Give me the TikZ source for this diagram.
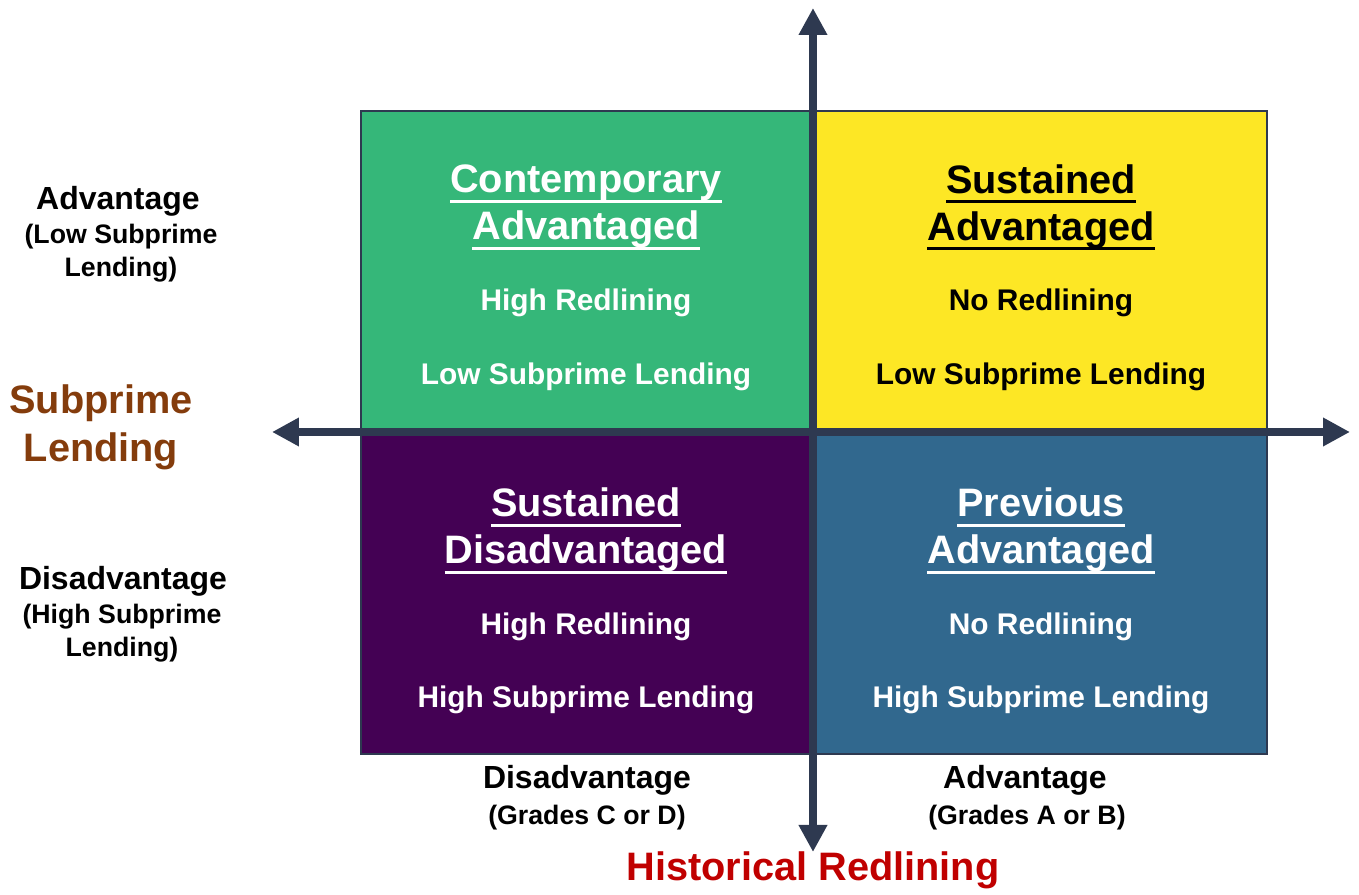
\documentclass[tikz,border=0pt]{standalone}
\usepackage{fontspec}
\setmainfont{Liberation Sans}
\usetikzlibrary{arrows.meta}

% underline drawn as a rule below the baseline
\newcommand\titleline[1]{\setbox0\hbox{#1}\rlap{\vrule height -2.0pt depth 2.85pt width \wd0}\box0}

\definecolor{quadgreen}{HTML}{35B779}
\definecolor{quadyellow}{HTML}{FDE725}
\definecolor{quadpurple}{HTML}{440154}
\definecolor{quadblue}{HTML}{31688E}
\definecolor{axiscol}{HTML}{2E3950}
\definecolor{lendbrown}{HTML}{843C0C}
\definecolor{redlinered}{HTML}{C00000}

\tikzset{
  axis/.style={draw=axiscol, line width=2.4pt, -{Triangle[width=0.27cm,length=0.27cm]}},
  quadtitle/.style={font=\bfseries\fontsize{11.3}{13.4}\selectfont, align=center, inner sep=0pt},
  quadtext/.style={font=\bfseries\fontsize{8.5}{10}\selectfont, inner sep=0pt},
  sidehead/.style={font=\bfseries\fontsize{9.1}{11}\selectfont, inner sep=0pt},
  sidesub/.style={font=\bfseries\fontsize{7.6}{9.4}\selectfont, align=center, inner sep=0pt},
  axistitle/.style={font=\bfseries\fontsize{11.3}{13.6}\selectfont, align=center, inner sep=0pt}
}

\begin{document}
\begin{tikzpicture}

\useasboundingbox (-8.13,-4.63) rectangle (5.46,4.32);

%fills
\fill[quadgreen] (-4.52,0) rectangle (0,3.21);
\fill[quadyellow] (0,0) rectangle (4.54,3.21);
\fill[quadpurple] (-4.52,-3.22) rectangle (0,0);
\fill[quadblue] (0,-3.22) rectangle (4.54,0);
\draw[axiscol, line width=0.6pt] (-4.52,-3.22) rectangle (4.54,3.21);

%axes
\coordinate (top) at (0,4.24);
\coordinate (bottom) at (0,-4.20);
\coordinate (left) at (-5.41,0);
\coordinate (right) at (5.37,0);
\draw[axis] (0,0) -- (top);
\draw[axis] (0,0) -- (bottom);
\draw[axis] (0,0) -- (left);
\draw[axis] (0,0) -- (right);

%quadrant texts
\node[quadtitle, text=white] (contadv) at (-2.27,2.245) {\titleline{Contemporary}\\\titleline{Advantaged}};
\node[quadtext, text=white] (contred) at (-2.27,1.29) {High Redlining};
\node[quadtext, text=white] (contlend) at (-2.27,0.55) {Low Subprime Lending};

\node[quadtitle, text=black] (sustadv) at (2.28,2.245) {\titleline{Sustained}\\\titleline{Advantaged}};
\node[quadtext, text=black] (sustred) at (2.28,1.29) {No Redlining};
\node[quadtext, text=black] (sustlend) at (2.28,0.55) {Low Subprime Lending};

\node[quadtitle, text=white] (sustdis) at (-2.27,-0.99) {\titleline{Sustained}\\\titleline{Disadvantaged}};
\node[quadtext, text=white] (disred) at (-2.27,-1.95) {High Redlining};
\node[quadtext, text=white] (dislend) at (-2.27,-2.68) {High Subprime Lending};

\node[quadtitle, text=white] (prevadv) at (2.28,-0.99) {\titleline{Previous}\\\titleline{Advantaged}};
\node[quadtext, text=white] (prevred) at (2.28,-1.95) {No Redlining};
\node[quadtext, text=white] (prevlend) at (2.28,-2.68) {High Subprime Lending};

%side labels
\node[sidehead] (lowhead) at (-6.95,2.31) {Advantage};
\node[sidesub] (lowsub) at (-6.92,1.79) {(Low Subprime\\Lending)};
\node[axistitle, text=lendbrown] (lending) at (-7.12,0.05) {Subprime\\Lending};
\node[sidehead] (highhead) at (-6.90,-1.49) {Disadvantage};
\node[sidesub] (highsub) at (-6.91,-2.01) {(High Subprime\\Lending)};

%bottom labels
\node[sidehead] (cdhead) at (-2.26,-3.48) {Disadvantage};
\node[sidesub] (cdsub) at (-2.26,-3.86) {(Grades C or D)};
\node[sidehead] (abhead) at (2.12,-3.48) {Advantage};
\node[sidesub] (absub) at (2.14,-3.86) {(Grades A or B)};
\node[axistitle, text=redlinered] (redlining) at (0,-4.38) {Historical Redlining};

\end{tikzpicture}
\end{document}
